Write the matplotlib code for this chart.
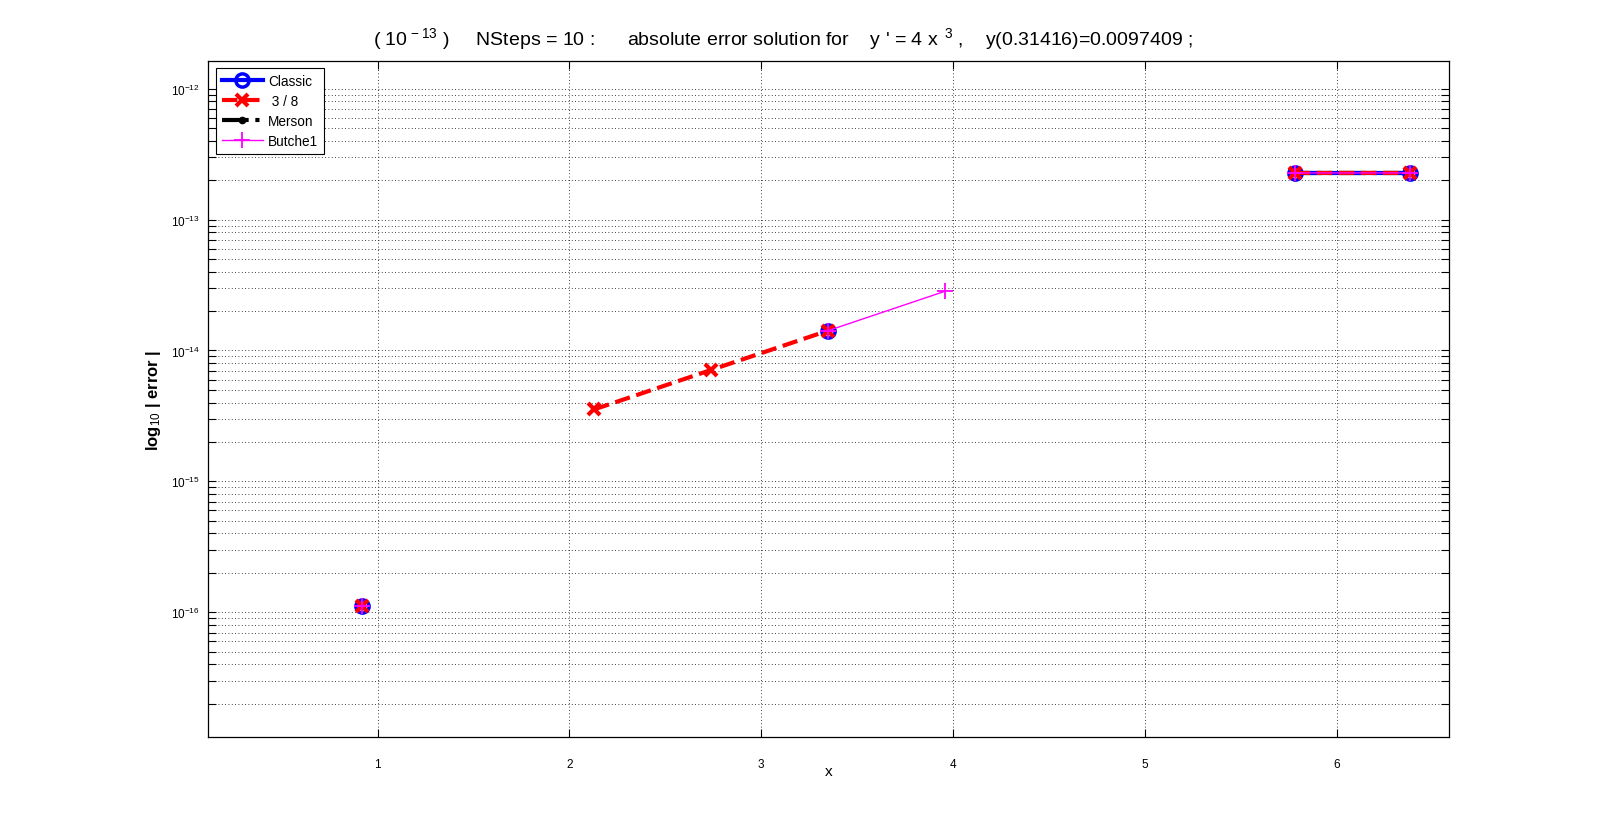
"""Absolute error of four RK schemes on a log axis (MATLAB-style figure)."""

import numpy as np
import matplotlib

matplotlib.use("Agg")
import matplotlib.pyplot as plt
from matplotlib.ticker import LogLocator, NullFormatter, FixedLocator

plt.rcParams["font.family"] = ["Liberation Sans", "DejaVu Sans"]
plt.rcParams["mathtext.fontset"] = "custom"
plt.rcParams["mathtext.rm"] = "Liberation Sans"
plt.rcParams["mathtext.it"] = "Liberation Sans"

# step positions along x
x_steps = [0.92, 1.53, 2.13, 2.74, 3.35, 3.96, 4.56, 5.17, 5.78, 6.38]

# |error| per method; nan = zero error (not drawn on log axis)
nan = np.nan
err_classic = [1.11e-16, nan, nan, nan, 1.42e-14, nan, nan, nan, 2.27e-13, 2.27e-13]
err_38 = [1.11e-16, nan, 3.55e-15, 7.11e-15, 1.42e-14, nan, nan, nan, 2.27e-13, 2.27e-13]
err_merson = [1.11e-16, nan, nan, nan, 1.42e-14, nan, nan, nan, 2.27e-13, 2.27e-13]
err_butcher = [1.11e-16, nan, nan, nan, 1.42e-14, 2.84e-14, nan, nan, 2.27e-13, 2.27e-13]

labels = ["Classic", " 3 / 8", "Merson", "Butche1"]
x_ticks = [1, 2, 3, 4, 5, 6]
x_lim = (0.117, 6.584)
y_lim = (1.12e-17, 1.62e-12)

title = (r"( 10$^{\,-13}$ )     NSteps = 10 :      absolute error solution for    "
         r"y ' = 4 x $^{\,3}$ ,    y(0.31416)=0.0097409 ;")


def main() -> None:
    fig = plt.figure(figsize=(16.01, 8.29), dpi=100)
    ax = fig.add_axes([0.13, 0.11, 0.775, 0.815])

    x = np.array(x_steps)
    ax.plot(x, err_classic, color="#0000ff", linestyle="-", linewidth=3,
            marker="o", markersize=9.5, markerfacecolor="none",
            markeredgewidth=2.5, label=labels[0], zorder=3)
    ax.plot(x, err_38, color="#ff0000", linestyle="--", linewidth=3,
            marker="x", markersize=9, markeredgewidth=3,
            label=labels[1], zorder=4)
    ax.plot(x, err_merson, color="black", linestyle="-.", linewidth=3,
            marker=".", markersize=9, label=labels[2], zorder=2)
    ax.plot(x, err_butcher, color="#ff00ff", linestyle="-", linewidth=1,
            marker="+", markersize=12, markeredgewidth=1.3,
            label=labels[3], zorder=5)

    ax.set_yscale("log")
    ax.set_xlim(*x_lim)
    ax.set_ylim(*y_lim)
    ax.xaxis.set_major_locator(FixedLocator(x_ticks))
    ax.yaxis.set_major_locator(LogLocator(base=10, numticks=20))
    ax.yaxis.set_minor_locator(LogLocator(base=10, subs=np.arange(2, 10), numticks=20))
    ax.yaxis.set_minor_formatter(NullFormatter())

    ax.grid(True, which="major", axis="both", linestyle=(0, (1, 3)), color="black", linewidth=0.6)
    ax.grid(True, which="minor", axis="y", linestyle=(0, (1, 3)), color="black", linewidth=0.6)

    ax.tick_params(which="both", direction="in", top=True, right=True, width=0.8, length=6)
    ax.tick_params(axis="x", labelsize=8.5, pad=15)
    ax.tick_params(axis="y", labelsize=8.5, pad=6)
    for spine in ax.spines.values():
        spine.set_linewidth(0.9)

    ax.set_xlabel("x", fontsize=11)
    ax.xaxis.set_label_coords(0.5, -0.040)
    ax.set_ylabel(r"log$_{10}$ | error |", fontsize=12, fontweight="bold")
    ax.yaxis.set_label_coords(-0.036, 0.5)
    ttl = ax.set_title(title, fontsize=14, pad=12)
    ttl.set_x(0.463)

    leg = ax.legend(loc="upper left", bbox_to_anchor=(0.006, 0.9905), borderaxespad=0,
                    fontsize=9.8, handlelength=3.0, handletextpad=0.4, fancybox=False,
                    framealpha=1, edgecolor="black", borderpad=0.45, labelspacing=0.45)
    leg.get_frame().set_linewidth(0.8)

    fig.savefig("out.png", dpi=100)
    plt.close(fig)


if __name__ == "__main__":
    main()
